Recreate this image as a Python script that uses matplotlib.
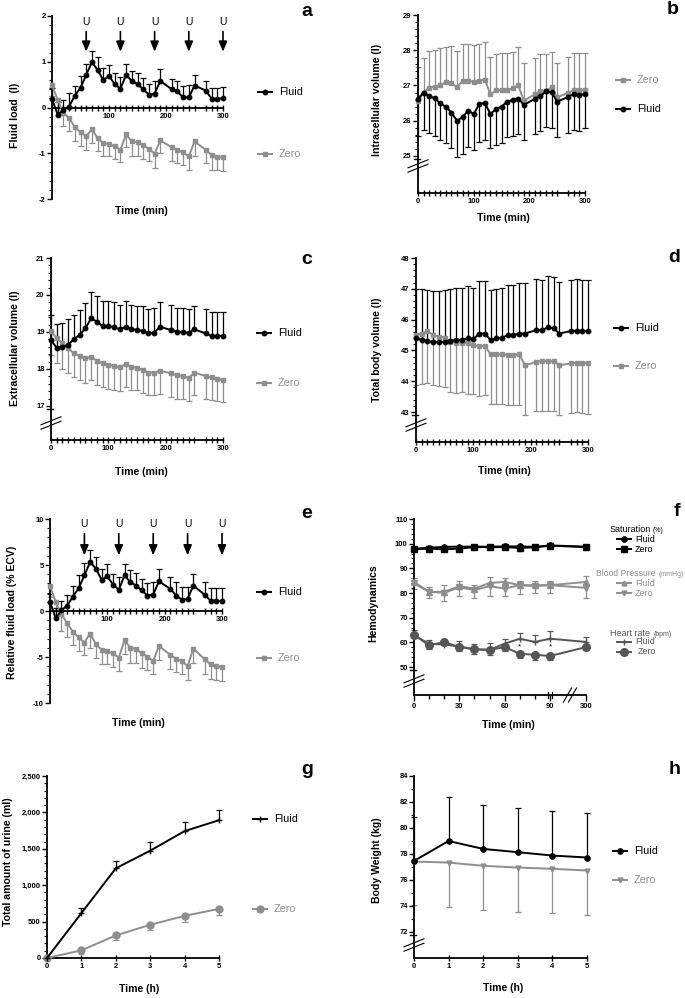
import numpy as np
import matplotlib
matplotlib.use('Agg')
import matplotlib.pyplot as plt
from matplotlib.lines import Line2D

plt.rcParams['font.family'] = ['Liberation Sans', 'DejaVu Sans']

############################ data ############################
# common time points (min) for panels a-e
T = [0, 10, 20, 30, 40, 50, 60, 70, 80, 90, 100, 110, 120, 130, 140, 150, 160, 170, 180, 190,
     210, 220, 230, 240, 250, 270, 280, 290, 300]
u_times = [60, 120, 180, 240, 300]

# a - fluid load (l)
a_fluid = [0.19, -0.16, -0.05, 0.02, 0.26, 0.43, 0.71, 0.99, 0.82, 0.60, 0.69, 0.51, 0.41, 0.71, 0.58, 0.51, 0.40, 0.28, 0.30, 0.58,
           0.40, 0.35, 0.22, 0.22, 0.48, 0.37, 0.19, 0.19, 0.20]
a_fluid_hi = [0.42, 0.12, 0.17, 0.31, 0.47, 0.69, 0.96, 1.23, 1.11, 0.86, 0.93, 0.75, 0.66, 0.94, 0.80, 0.76, 0.64, 0.51, 0.57, 0.84,
              0.62, 0.57, 0.47, 0.49, 0.72, 0.57, 0.42, 0.42, 0.44]
a_zero = [0.49, 0.17, -0.12, -0.23, -0.43, -0.54, -0.63, -0.47, -0.67, -0.78, -0.80, -0.85, -0.92, -0.59, -0.74, -0.76, -0.83, -0.90, -1.01, -0.72,
          -0.87, -0.93, -0.98, -1.07, -0.74, -0.93, -1.04, -1.08, -1.09]
a_zero_lo = [0.25, -0.16, -0.41, -0.52, -0.74, -0.85, -0.93, -0.78, -0.96, -1.05, -1.07, -1.12, -1.19, -0.86, -1.05, -1.07, -1.12, -1.17, -1.32, -0.99,
             -1.16, -1.21, -1.25, -1.36, -1.05, -1.22, -1.36, -1.37, -1.38]

# b - intracellular volume (l)
b_zero = [26.55, 26.80, 26.94, 26.97, 27.01, 27.09, 27.08, 26.95, 27.13, 27.13, 27.11, 27.13, 27.17, 26.75, 26.86, 26.87, 26.87, 26.92, 27.01, 26.57,
          26.75, 26.85, 26.85, 26.95, 26.66, 26.80, 26.87, 26.87, 26.87]
b_zero_hi = [27.53, 27.79, 27.98, 28.00, 28.07, 28.10, 28.12, 27.99, 28.17, 28.17, 28.15, 28.17, 28.22, 27.80, 27.89, 27.91, 27.91, 27.96, 28.10, 27.63,
             27.79, 27.89, 27.89, 27.96, 27.63, 27.82, 27.91, 27.91, 27.91]
b_fluid = [26.63, 26.80, 26.70, 26.64, 26.49, 26.40, 26.23, 26.00, 26.10, 26.29, 26.19, 26.47, 26.51, 26.19, 26.33, 26.40, 26.54, 26.59, 26.63, 26.45,
           26.62, 26.70, 26.83, 26.81, 26.54, 26.68, 26.76, 26.73, 26.76]
b_fluid_lo = [25.57, 25.74, 25.64, 25.57, 25.45, 25.36, 25.22, 24.98, 25.06, 25.26, 25.17, 25.41, 25.45, 25.22, 25.31, 25.38, 25.55, 25.57, 25.62, 25.45,
              25.61, 25.71, 25.83, 25.80, 25.53, 25.66, 25.74, 25.72, 25.78]

# c - extracellular volume (l)
c_fluid = [18.78, 18.57, 18.60, 18.65, 18.81, 18.92, 19.10, 19.37, 19.28, 19.16, 19.16, 19.13, 19.07, 19.14, 19.09, 19.05, 19.03, 18.96, 18.98, 19.14,
           19.05, 19.01, 19.00, 18.98, 19.07, 18.96, 18.89, 18.89, 18.89]
c_fluid_hi = [19.45, 19.21, 19.25, 19.34, 19.46, 19.60, 19.78, 20.08, 19.96, 19.85, 19.85, 19.81, 19.73, 19.84, 19.73, 19.71, 19.69, 19.62, 19.64, 19.80,
              19.73, 19.64, 19.64, 19.62, 19.71, 19.62, 19.55, 19.55, 19.55]
c_zero = [19.03, 18.83, 18.69, 18.56, 18.42, 18.36, 18.29, 18.33, 18.22, 18.15, 18.12, 18.09, 18.04, 18.13, 18.06, 18.03, 17.97, 17.90, 17.90, 17.95,
          17.88, 17.83, 17.81, 17.76, 17.90, 17.81, 17.77, 17.72, 17.71]
c_zero_lo = [18.38, 18.15, 18.01, 17.88, 17.79, 17.70, 17.62, 17.70, 17.58, 17.52, 17.47, 17.44, 17.41, 17.52, 17.44, 17.44, 17.35, 17.31, 17.29, 17.32,
             17.24, 17.20, 17.18, 17.13, 17.29, 17.18, 17.15, 17.13, 17.11]

# d - total body volume (l)
d_fluid = [45.39, 45.34, 45.30, 45.28, 45.28, 45.28, 45.32, 45.34, 45.34, 45.39, 45.36, 45.55, 45.55, 45.34, 45.39, 45.41, 45.50, 45.50, 45.55, 45.55,
           45.66, 45.66, 45.75, 45.72, 45.55, 45.63, 45.64, 45.63, 45.63]
d_fluid_hi = [47.00, 46.99, 46.97, 46.93, 46.93, 46.97, 46.99, 47.02, 47.02, 47.08, 47.04, 47.24, 47.24, 46.97, 47.00, 47.02, 47.13, 47.13, 47.18, 47.18,
              47.32, 47.29, 47.42, 47.38, 47.21, 47.29, 47.32, 47.27, 47.27]
d_zero = [45.50, 45.55, 45.63, 45.50, 45.45, 45.42, 45.28, 45.25, 45.25, 45.23, 45.17, 45.14, 45.15, 44.88, 44.87, 44.87, 44.85, 44.85, 44.88, 44.52,
          44.63, 44.66, 44.65, 44.65, 44.52, 44.58, 44.60, 44.60, 44.58]
d_zero_lo = [43.89, 43.92, 43.96, 43.87, 43.84, 43.82, 43.65, 43.63, 43.65, 43.60, 43.58, 43.51, 43.54, 43.27, 43.27, 43.27, 43.24, 43.24, 43.24, 42.89,
             43.02, 43.02, 43.02, 43.02, 42.92, 42.98, 42.99, 42.98, 42.95]

# e - relative fluid load (% ECV)
e_fluid = [1.02, -0.80, 0.10, 0.58, 1.57, 2.48, 3.87, 5.33, 4.60, 3.39, 3.76, 2.88, 2.30, 3.87, 3.14, 2.77, 2.23, 1.68, 1.79, 3.21,
           2.41, 1.68, 1.24, 1.31, 2.77, 1.75, 1.13, 1.13, 1.06]
e_fluid_hi = [1.90, 0.30, 1.13, 1.75, 2.77, 3.87, 5.22, 6.60, 5.88, 4.60, 5.07, 4.05, 3.69, 5.07, 4.42, 4.12, 3.50, 3.03, 3.14, 4.60,
              3.69, 3.14, 2.66, 2.66, 4.05, 3.10, 2.48, 2.48, 2.48]
e_zero = [2.77, 0.95, -0.33, -1.35, -2.26, -2.88, -3.43, -2.45, -3.61, -4.23, -4.34, -4.60, -5.07, -3.18, -3.98, -4.09, -4.60, -4.96, -5.44, -3.80,
          -4.78, -5.18, -5.44, -5.99, -4.09, -5.26, -5.80, -5.99, -6.09]
e_zero_lo = [1.50, 0.04, -2.15, -2.88, -3.72, -4.34, -4.78, -3.98, -5.07, -5.73, -5.80, -6.09, -6.53, -4.63, -5.62, -5.69, -6.17, -6.46, -6.90, -5.33,
             -6.31, -6.68, -6.90, -7.45, -5.62, -6.82, -7.37, -7.55, -7.63]

# f - hemodynamics
f_time = [0, 10, 20, 30, 40, 50, 60, 70, 80, 90, 300]
f_sat_fluid = [97.9, 98.4, 98.7, 98.8, 98.8, 98.8, 98.9, 98.9, 98.7, 99.3, 98.8]
f_sat_zero = [97.8, 98.0, 97.7, 98.0, 98.6, 98.6, 98.6, 98.3, 98.5, 99.2, 98.6]
f_bp_fluid = [84.5, 80.5, 80.5, 82.8, 81.8, 84.1, 84.5, 83.2, 83.2, 83.2, 84.5]
f_bp_fluid_hi = [86.3, 82.3, 83.1, 85.0, 83.3, 86.6, 86.3, 85.0, 85.0, 85.0, 86.8]
f_bp_zero = [83.9, 80.5, 80.1, 82.3, 81.2, 82.8, 81.8, 83.2, 82.8, 83.2, 82.1]
f_bp_zero_lo = [81.5, 77.8, 76.8, 78.9, 78.0, 79.0, 78.9, 79.5, 80.2, 80.0, 77.8]
f_hr_fluid = [62.9, 59.5, 59.1, 58.4, 57.2, 57.0, 59.5, 61.5, 60.2, 61.5, 60.2]
f_hr_fluid_hi = [64.9, 60.8, 61.1, 60.4, 59.5, 59.7, 61.5, 64.0, 62.9, 64.6, 62.2]
f_hr_zero = [63.1, 58.8, 60.2, 58.1, 57.2, 57.0, 58.1, 55.4, 55.0, 54.5, 58.1]
f_hr_zero_lo = [61.8, 57.5, 59.0, 56.5, 55.4, 55.1, 56.5, 53.8, 53.0, 52.7, 57.0]
f_star_sat = [20, 30, 70]
f_star_hr = [70, 90]

# g - total amount of urine (ml)
hours = [0, 1, 2, 3, 4, 5]
g_fluid = [0, 616, 1232, 1474, 1743, 1893]
g_fluid_hi = [0, 684, 1332, 1588, 1870, 2039]
g_zero = [0, 105, 310, 456, 579, 675]
g_zero_lo = [0, 59, 251, 379, 493, 584]

# h - body weight (kg)
h_fluid = [77.47, 79.0, 78.39, 78.14, 77.88, 77.73]
h_fluid_hi = [80.88, 82.41, 81.77, 81.57, 81.34, 81.19]
h_zero = [77.42, 77.34, 77.09, 76.96, 76.86, 76.73]
h_zero_lo = [74.05, 73.92, 73.71, 73.53, 73.46, 73.33]

############################ helpers ############################
W, H = 685, 998
fig = plt.figure(figsize=(W / 100, H / 100), dpi=100)
BLACK = '#000000'
GREY = '#8e8e8e'
DARK = '#555555'


def box(l, t, r, b):
    return fig.add_axes([l / W, 1 - b / H, (r - l) / W, (b - t) / H])


def fline(xs, ys, **kw):
    fig.add_artist(Line2D([x / W for x in xs], [1 - y / H for y in ys], **kw))


def ftext(x, y, s, **kw):
    fig.text(x / W, 1 - y / H, s, **kw)


def style(ax, xlim, ylim, xmaj, xlab, xmin, ymaj, ylab, ymin, xdir='inout', zero_axis=False):
    # spine position first: moving a spine resets the tick styling
    if zero_axis:
        ax.spines['bottom'].set_position(('data', 0))
    ax.set_xlim(*xlim)
    ax.set_ylim(*ylim)
    for s in ('top', 'right'):
        ax.spines[s].set_visible(False)
    for s in ('left', 'bottom'):
        ax.spines[s].set_linewidth(1.3)
    ax.set_xticks(xmaj, xlab, fontweight='bold', fontsize=5.5)
    ax.set_xticks(xmin, minor=True)
    ax.set_yticks(ymaj, ylab, fontweight='bold', fontsize=5.5)
    ax.set_yticks(ymin, minor=True)
    ax.tick_params(axis='x', which='both', direction=xdir, length=4.5, width=1, pad=1.5)
    ax.tick_params(axis='y', which='major', length=3.5, width=1, pad=1)
    ax.tick_params(axis='y', which='minor', length=2, width=0.8)
    ax.patch.set_alpha(0)


def series(ax, x, y, c, marker, ms, lw=1.4, z=3, mew=1):
    ax.plot(x, y, color=c, lw=lw, marker=marker, ms=ms, mfc=c, mec=c, mew=mew, zorder=z, clip_on=False)


def bars(ax, x, y, end, c, lw=0.9, cw=4.5, z=2):
    ax.vlines(x, y, end, color=c, lw=lw, zorder=z, clip_on=False)
    ax.plot(x, end, ls='none', marker='_', ms=cw, mew=lw, color=c, zorder=z, clip_on=False)


def leg(x, y, label, c, marker, ms, fs=7.8, tc=None, gap=21):
    fline([x, x + 14], [y, y], color=c, lw=1.4)
    fline([x + 7], [y], color=c, marker=marker, ms=ms, ls='none', mew=1)
    ftext(x + gap, y, label, fontsize=fs, va='center', ha='left', color=tc or c)


def ybreak(sx, sy):
    for d in (-2.2, 2.2):
        fline([sx - 10, sx + 10], [sy + 4 + d, sy - 4 + d], color='k', lw=0.8)


def dbl(sx, sy):
    fline([sx - 4, sx + 2], [sy + 2.5, sy + 2.5], color='k', lw=1)


def uarrows(ax, ytext, ytop, ytip):
    for t in u_times:
        ax.annotate('', xy=(t, ytip), xytext=(t, ytop),
                    arrowprops=dict(arrowstyle='-|>,head_length=0.6,head_width=0.25', color='k',
                                    lw=1.2, shrinkA=0, shrinkB=0), annotation_clip=False)
        ax.text(t, ytext, 'U', ha='center', va='center', fontsize=7.5)


def ylab(x, y, s):
    ftext(x, y, s, rotation=90, ha='center', va='center', fontsize=7.6, fontweight='bold')


def xlab(x, y, s):
    ftext(x, y, s, ha='center', va='center', fontsize=7.6, fontweight='bold')


def letter(x, y, s):
    ftext(x, y, s, ha='center', va='center', fontsize=14, fontweight='bold')


xmaj_min = [0, 100, 200, 300]

############################ a ############################
ax = box(52, 16, 223, 199)
style(ax, (0, 300), (-2, 2), [100, 200, 300], ['100', '200', '300'], T,
      [-2, -1, 0, 1, 2], ['-2', '-1', '0', '1', '2'], np.arange(-2, 2.01, 0.2), zero_axis=True)
bars(ax, T, a_zero, a_zero_lo, GREY)
bars(ax, T, a_fluid, a_fluid_hi, BLACK)
series(ax, T, a_zero, GREY, 's', 3.2)
series(ax, T, a_fluid, BLACK, 'o', 3.2, z=4)
uarrows(ax, 1.86, 1.66, 1.22)
ylab(15, 115, 'Fluid load  (l)')
xlab(141, 211, 'Time (min)')
leg(258, 92, 'Fluid', BLACK, 'o', 3.2)
leg(258, 154, 'Zero', GREY, 's', 3.2)
letter(307, 11, 'a')

############################ b ############################
ax = box(418, 15, 585, 193)
style(ax, (0, 300), (23.95, 29), xmaj_min, ['0', '100', '200', '300'], T,
      [25, 26, 27, 28, 29], ['25', '26', '27', '28', '29'], np.arange(25, 29.01, 0.2))
bars(ax, T, b_zero, b_zero_hi, GREY)
bars(ax, T, b_fluid, b_fluid_lo, BLACK)
series(ax, T, b_zero, GREY, 's', 3.2)
series(ax, T, b_fluid, BLACK, 'o', 3.2, z=4)
ybreak(418, 166)
dbl(418, 156)
ylab(377, 100, 'Intracellular volume (l)')
xlab(503, 218, 'Time (min)')
leg(616, 80, 'Zero', GREY, 's', 3.2)
leg(616, 109, 'Fluid', BLACK, 'o', 3.2)
letter(673, 10, 'b')

############################ c ############################
ax = box(51, 258, 223, 440)
style(ax, (0, 300), (16.08, 21), xmaj_min, ['0', '100', '200', '300'], T,
      [17, 18, 19, 20, 21], ['17', '18', '19', '20', '21'], np.arange(17, 21.01, 0.2))
bars(ax, T, c_zero, c_zero_lo, GREY)
bars(ax, T, c_fluid, c_fluid_hi, BLACK)
series(ax, T, c_zero, GREY, 's', 3.2)
series(ax, T, c_fluid, BLACK, 'o', 3.2, z=4)
ybreak(51, 423)
dbl(51, 406)
ylab(15, 348, 'Extracellular volume (l)')
xlab(141, 472, 'Time (min)')
leg(257, 333, 'Fluid', BLACK, 'o', 3.2)
leg(257, 383, 'Zero', GREY, 's', 3.2)
letter(307, 260, 'c')

############################ d ############################
ax = box(416, 258, 588, 442)
style(ax, (0, 300), (42.03, 48), xmaj_min, ['0', '100', '200', '300'], T,
      [43, 44, 45, 46, 47, 48], ['43', '44', '45', '46', '47', '48'], np.arange(43, 48.01, 0.2))
bars(ax, T, d_zero, d_zero_lo, GREY)
bars(ax, T, d_fluid, d_fluid_hi, BLACK)
series(ax, T, d_zero, GREY, 's', 3.2)
series(ax, T, d_fluid, BLACK, 'o', 3.2, z=4)
ybreak(416, 425)
dbl(416, 412)
ylab(377, 350, 'Total body volume (l)')
xlab(504, 471, 'Time (min)')
leg(614, 328, 'Fluid', BLACK, 'o', 3.2)
leg(614, 366, 'Zero', GREY, 's', 3.2)
letter(674, 258, 'd')

############################ e ############################
ax = box(50, 519, 222, 703)
style(ax, (0, 300), (-10, 10), [100, 200, 300], ['100', '200', '300'], T,
      [-10, -5, 0, 5, 10], ['-10', '-5', '0', '5', '10'], np.arange(-10, 10.01, 1), zero_axis=True)
bars(ax, T, e_zero, e_zero_lo, GREY)
bars(ax, T, e_fluid, e_fluid_hi, BLACK)
series(ax, T, e_zero, GREY, 's', 3.2)
series(ax, T, e_fluid, BLACK, 'o', 3.2, z=4)
uarrows(ax, 9.45, 8.4, 6.05)
ylab(12, 612, 'Relative fluid load (% ECV)')
xlab(138, 723, 'Time (min)')
leg(257, 592, 'Fluid', BLACK, 'o', 3.2)
leg(257, 658, 'Zero', GREY, 's', 3.2)
letter(307, 513, 'e')

############################ f ############################
def fpos(t):
    t = np.asarray(t, float)
    return np.where(t <= 90, t, 90 + (t - 90) * 23.8 / 210)


ax = box(414, 519, 586, 695)
fx = fpos(f_time)
style(ax, (0, float(fpos(300))), (38.7, 110), fpos([0, 30, 60, 90, 300]), ['0', '30', '60', '90', '300'],
      fpos([10, 20, 40, 50, 70, 80]), [50, 60, 70, 80, 90, 100, 110],
      ['50', '60', '70', '80', '90', '100', '110'], np.arange(50, 110.1, 2), xdir='out')
ax.tick_params(axis='x', which='minor', length=3)
bars(ax, fx, f_bp_fluid, f_bp_fluid_hi, GREY)
bars(ax, fx, f_bp_zero, f_bp_zero_lo, GREY)
bars(ax, fx, f_hr_fluid, f_hr_fluid_hi, DARK)
bars(ax, fx, f_hr_zero, f_hr_zero_lo, DARK)
series(ax, fx, f_sat_zero, BLACK, 's', 3.8)
series(ax, fx, f_sat_fluid, BLACK, 'o', 3.8)
series(ax, fx, f_bp_fluid, GREY, '^', 3.8)
series(ax, fx, f_bp_zero, GREY, 'v', 3.8)
series(ax, fx, f_hr_zero, DARK, 'o', 5.5)
series(ax, fx, f_hr_fluid, DARK, '+', 4)
for t in f_star_sat:
    ax.text(float(fpos(t)), 96.2, '*', ha='center', va='center', fontsize=6)
for t in f_star_hr:
    ax.text(float(fpos(t)), 58.0, '*', ha='center', va='center', fontsize=6)
ybreak(414, 681)
dbl(414, 667)
# x axis break between 90 and 300
for d in (-2, 2):
    fline([550 + d, 550 + d], [692, 698], color='k', lw=0.9)
for d in (-2.5, 2.5):
    fline([566 + d, 574 + d], [702, 688], color='k', lw=0.8)
ylab(373, 603, 'Hemodynamics')
xlab(508, 725, 'Time (min)')
ftext(610, 530, 'Saturation', fontsize=6.5, va='center', ha='left')
ftext(653, 531, '(%)', fontsize=5, va='center', ha='left')
leg(617, 539, 'Fluid', BLACK, 'o', 3.8, fs=6.5, gap=18)
leg(617, 549, 'Zero', BLACK, 's', 3.8, fs=6.5, gap=18)
ftext(596, 573, 'Blood Pressure', fontsize=6.2, va='center', ha='left', color=GREY)
ftext(659, 574, '(mmHg)', fontsize=5, va='center', ha='left', color=GREY)
leg(617, 583, 'Fluid', GREY, '^', 3.5, fs=6.5, gap=18)
leg(617, 593, 'Zero', GREY, 'v', 3.5, fs=6.5, gap=18)
ftext(610, 633, 'Heart rate', fontsize=6.5, va='center', ha='left', color=DARK)
ftext(654, 634, '(bpm)', fontsize=5, va='center', ha='left', color=DARK)
leg(617, 642, 'Fluid', DARK, '+', 4, fs=6.5, gap=18)
leg(617, 652, 'Zero', DARK, 'o', 5.5, fs=6.5, gap=21)
letter(677, 512, 'f')

############################ g ############################
ax = box(47, 776, 219, 958)
style(ax, (0, 5), (0, 2500), hours, [str(h) for h in hours], hours,
      [0, 500, 1000, 1500, 2000, 2500], ['0', '500', '1,000', '1,500', '2,000', '2,500'],
      np.arange(0, 2501, 100))
bars(ax, hours, g_zero, g_zero_lo, GREY)
bars(ax, hours, g_fluid, g_fluid_hi, BLACK)
series(ax, hours, g_zero, GREY, 'o', 5)
series(ax, hours, g_fluid, BLACK, '+', 4, z=4)
ylab(8, 862, 'Total amount of urine (ml)')
xlab(139, 989, 'Time (h)')
leg(253, 819, 'Fluid', BLACK, '+', 4)
leg(253, 909, 'Zero', GREY, 'o', 5)
letter(307, 770, 'g')

############################ h ############################
ax = box(414, 776, 587, 958)
style(ax, (0, 5), (70, 84), hours, [str(h) for h in hours], hours,
      [72, 74, 76, 78, 80, 82, 84], ['72', '74', '76', '78', '80', '82', '84'],
      np.arange(72, 84.1, 1))
bars(ax, hours, h_zero, h_zero_lo, GREY)
bars(ax, hours, h_fluid, h_fluid_hi, BLACK)
series(ax, hours, h_zero, GREY, 'v', 3.5)
series(ax, hours, h_fluid, BLACK, 'o', 3.8, z=4)
ybreak(414, 945)
dbl(414, 932)
ylab(377, 860, 'Body Weight (kg)')
xlab(503, 988, 'Time (h)')
leg(613, 851, 'Fluid', BLACK, 'o', 3.8)
leg(613, 880, 'Zero', GREY, 'v', 3.5)
letter(675, 770, 'h')

plt.savefig('out.png', dpi=100)
